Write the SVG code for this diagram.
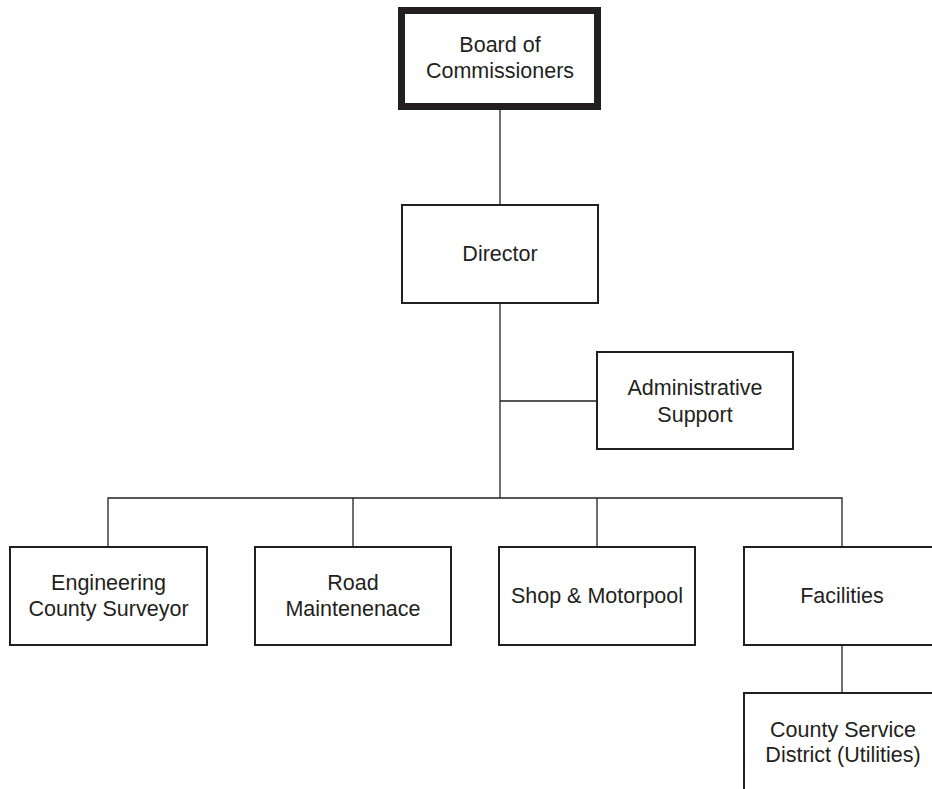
<svg xmlns="http://www.w3.org/2000/svg" width="932" height="789" viewBox="0 0 932 789">
<style>
.box{fill:#fff;stroke:#231f20;stroke-width:2}
.thick{fill:#fff;stroke:#231f20;stroke-width:7}
.lbl{font-family:"Liberation Sans",Arial,sans-serif;font-size:21.5px;fill:#231f20;text-anchor:middle}
.con{fill:none;stroke:#231f20;stroke-width:1.3}
</style>
<rect width="932" height="789" fill="#fff"/>
<g id="connectors">
<line class="con" x1="500" y1="110" x2="500" y2="205"/>
<line class="con" x1="500" y1="303" x2="500" y2="498"/>
<line class="con" x1="500" y1="401" x2="597" y2="401"/>
<polyline class="con" points="108,547 108,498 842,498 842,547"/>
<line class="con" x1="353" y1="498" x2="353" y2="547"/>
<line class="con" x1="597" y1="498" x2="597" y2="547"/>
<line class="con" x1="842" y1="645" x2="842" y2="693"/>
</g>
<g id="board">
<rect class="thick" x="401.5" y="10.5" width="196" height="96"/>
<text class="lbl" x="500" y="52">Board of</text>
<text class="lbl" x="500" y="78">Commissioners</text>
</g>
<g id="director">
<rect class="box" x="402" y="205" width="196" height="98"/>
<text class="lbl" x="500" y="261">Director</text>
</g>
<g id="admin">
<rect class="box" x="597" y="352" width="196" height="97"/>
<text class="lbl" x="695" y="395">Administrative</text>
<text class="lbl" x="695" y="422">Support</text>
</g>
<g id="engineering">
<rect class="box" x="10" y="547" width="197" height="98"/>
<text class="lbl" x="108.5" y="590">Engineering</text>
<text class="lbl" x="108.5" y="616">County Surveyor</text>
</g>
<g id="road">
<rect class="box" x="255" y="547" width="196" height="98"/>
<text class="lbl" x="353" y="590">Road</text>
<text class="lbl" x="353" y="616">Maintenenace</text>
</g>
<g id="shop">
<rect class="box" x="499" y="547" width="196" height="98"/>
<text class="lbl" x="597" y="603">Shop &amp; Motorpool</text>
</g>
<g id="facilities">
<rect class="box" x="744" y="547" width="196" height="98"/>
<text class="lbl" x="842" y="603">Facilities</text>
</g>
<g id="csd">
<rect class="box" x="744" y="693" width="196" height="98"/>
<text class="lbl" x="843" y="737">County Service</text>
<text class="lbl" x="843" y="762">District (Utilities)</text>
</g>
</svg>
